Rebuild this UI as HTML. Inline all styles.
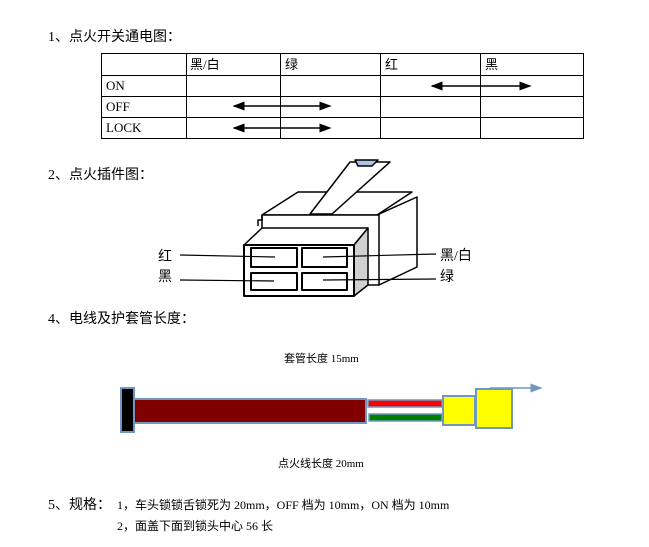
<!DOCTYPE html>
<html><head><meta charset="utf-8"><style>
body{margin:0;width:649px;height:547px;background:#fff;position:relative;overflow:hidden;font-family:"Liberation Serif","Noto Sans CJK SC",serif;font-size:13px;color:#000}
.t{position:absolute;white-space:nowrap}
.cn{font-family:"Liberation Serif","Noto Sans CJK SC",sans-serif}
</style></head><body>
<div class="t cn" style="left:48px;top:26px;font-size:14px">1、点火开关通电图：</div>
<div class="t cn" style="left:48px;top:164px;font-size:14px">2、点火插件图：</div>
<div class="t cn" style="left:48px;top:308px;font-size:14px">4、电线及护套管长度：</div>
<div class="t cn" style="left:48px;top:494px;font-size:14px">5、规格：</div>
<div class="t cn" style="left:117px;top:496px;font-size:12px">1，车头锁锁舌锁死为 20mm，OFF 档为 10mm，ON 档为 10mm</div>
<div class="t cn" style="left:117px;top:517px;font-size:12px">2，面盖下面到锁头中心 56 长</div>
<div class="t cn" style="left:284px;top:350px;font-size:11px">套管长度 15mm</div>
<div class="t cn" style="left:278px;top:455px;font-size:11px">点火线长度 20mm</div>
<svg width="649" height="547" style="position:absolute;left:0;top:0">
<defs><marker id="a" markerWidth="8" markerHeight="8" refX="7" refY="4" orient="auto-start-reverse"><path d="M0,1L8,4L0,7z"/></marker>
<marker id="b" markerWidth="8" markerHeight="8" refX="7" refY="4" orient="auto"><path d="M0,1L8,4L0,7z" fill="#6f97c2"/></marker></defs>
<g stroke="#000" stroke-width="1" fill="none">
<rect x="101.5" y="53.5" width="482" height="85"/>
<line x1="101" y1="75.5" x2="583" y2="75.5"/><line x1="101" y1="96.5" x2="583" y2="96.5"/><line x1="101" y1="117.5" x2="583" y2="117.5"/>
<line x1="186.5" y1="53" x2="186.5" y2="138"/><line x1="280.5" y1="53" x2="280.5" y2="138"/><line x1="380.5" y1="53" x2="380.5" y2="138"/><line x1="480.5" y1="53" x2="480.5" y2="138"/>
<g stroke-width="1.5"><line x1="432" y1="86" x2="530" y2="86" marker-start="url(#a)" marker-end="url(#a)"/>
<line x1="234" y1="106" x2="330" y2="106" marker-start="url(#a)" marker-end="url(#a)"/>
<line x1="234" y1="128" x2="330" y2="128" marker-start="url(#a)" marker-end="url(#a)"/></g>
</g>
<g fill="#000" font-size="13" font-family="Liberation Serif,Noto Sans CJK SC,serif">
<text x="190" y="69">黑/白</text><text x="285" y="69">绿</text><text x="385" y="69">红</text><text x="485" y="69">黑</text>
<text x="106" y="90">ON</text><text x="106" y="111">OFF</text><text x="106" y="132">LOCK</text>
</g>
<!-- connector -->
<g stroke="#000" stroke-width="1.5" fill="#fff" stroke-linejoin="round">
<polygon points="262,215 298,192 412,192 377,215"/>
<polygon points="377,215 417,197 417,267 379,285"/>
<rect x="262" y="215" width="117" height="70"/>
<polygon points="310,214 332,214 390,162 350,162" />
<polygon points="355,160 378,160 372,166 358,166" fill="#a9c4e4"/>
<polyline points="262,215 262,220 258,220 258,226" fill="none"/>
<polygon points="244,245 262,228 368,228 354,245"/>
<polygon points="354,245 368,228 368,285 354,296" fill="#d0d0d0"/>
<rect x="244" y="245" width="110" height="51" stroke-width="2"/>
<rect x="251" y="248" width="46" height="19" stroke-width="2"/>
<rect x="302" y="248" width="45" height="19" stroke-width="2"/>
<rect x="251" y="273" width="46" height="17" stroke-width="2"/>
<rect x="302" y="273" width="45" height="17" stroke-width="2"/>
<g fill="none" stroke-width="1.2"><line x1="180" y1="255" x2="275" y2="257"/><line x1="180" y1="280" x2="274" y2="281"/>
<line x1="323" y1="257" x2="436" y2="254"/><line x1="323" y1="280" x2="436" y2="279"/></g>
</g>
<g font-size="14" font-family="Liberation Serif,Noto Sans CJK SC,sans-serif"><text x="158" y="261">红</text><text x="158" y="281">黑</text><text x="440" y="260">黑/白</text><text x="440" y="281">绿</text></g>
<!-- wire -->
<g stroke="#6f97c2" stroke-width="2">
<rect x="121" y="388" width="13" height="44" fill="#000"/>
<rect x="134" y="399" width="232" height="24" fill="#800000"/>
<rect x="368" y="400" width="74" height="7" fill="#f00" stroke-width="1.5"/>
<rect x="369" y="414" width="73" height="7" fill="#008000" stroke-width="1.5"/>
<rect x="443" y="396" width="32" height="29" fill="#ff0"/>
<rect x="476" y="389" width="36" height="39" fill="#ff0"/>
<line x1="490" y1="388" x2="541" y2="388" stroke-width="1.5" marker-end="url(#b)"/>
</g>
</svg>
</body></html>
